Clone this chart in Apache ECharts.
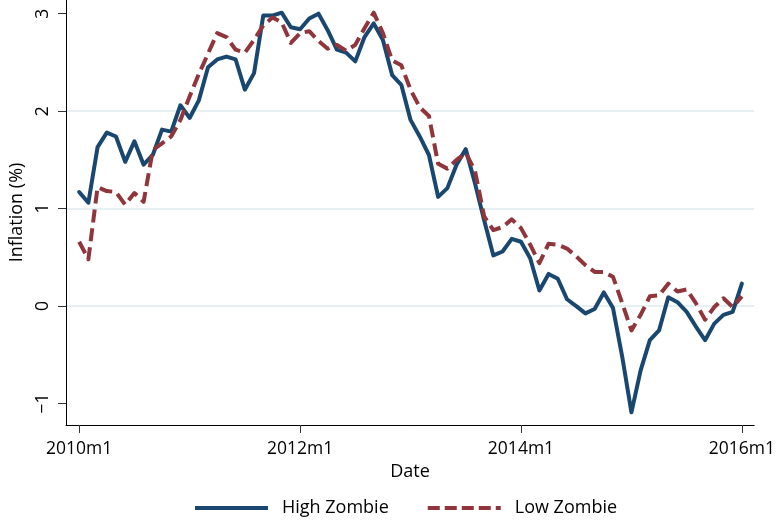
<!DOCTYPE html>
<html>
<head>
<meta charset="utf-8">
<script src="https://cdn.jsdelivr.net/npm/echarts@6/dist/echarts.min.js"></script>
<style>
html,body{margin:0;padding:0;background:#fff;}
#chart{width:778px;height:525px;}
</style>
</head>
<body>
<div id="chart"></div>
<script>
// Months since 2010m1 (0 = 2010m1 ... 72 = 2016m1)
const highZombie = [1.17,1.06,1.63,1.78,1.74,1.48,1.69,1.45,1.55,1.81,1.79,2.06,1.93,
  2.11,2.45,2.53,2.56,2.53,2.22,2.39,2.98,2.98,3.01,2.86,2.84,2.95,
  3.00,2.83,2.63,2.60,2.51,2.76,2.90,2.73,2.37,2.27,1.91,1.74,1.55,
  1.12,1.21,1.45,1.61,1.26,0.88,0.52,0.56,0.69,0.66,0.49,0.16,0.33,
  0.28,0.07,0.00,-0.075,-0.03,0.14,-0.02,-0.52,-1.09,-0.66,-0.35,-0.25,0.09,
  0.04,-0.06,-0.21,-0.35,-0.18,-0.09,-0.06,0.23];
const lowZombie = [0.66,0.48,1.22,1.18,1.17,1.04,1.16,1.07,1.60,1.67,1.74,1.91,2.15,
  2.38,2.59,2.80,2.76,2.63,2.60,2.73,2.88,2.96,2.91,2.70,2.80,2.82,
  2.72,2.64,2.68,2.62,2.68,2.85,3.01,2.80,2.52,2.47,2.22,2.04,1.95,
  1.46,1.41,1.50,1.57,1.39,0.92,0.78,0.81,0.89,0.80,0.63,0.44,0.64,
  0.63,0.59,0.51,0.42,0.35,0.35,0.30,0.03,-0.25,-0.09,0.10,0.11,0.23,
  0.15,0.17,0.03,-0.14,-0.01,0.08,-0.01,0.10];
const xTickValues = [0, 24, 48, 72];
const xTickLabels = ['2010m1', '2012m1', '2014m1', '2016m1'];
const yTickValues = [-1, 0, 1, 2, 3];
const yTickLabels = ['\u22121', '0', '1', '2', '3'];
const seriesNames = ['High Zombie', 'Low Zombie'];

const FONT = '"Open Sans", sans-serif';
const toPairs = arr => arr.map((v, i) => [i, v]);
const BLUE = '#1a476f', RED = '#90353b';

const chart = echarts.init(document.getElementById('chart'), null, {renderer: 'canvas'});
chart.setOption({
  animation: false,
  backgroundColor: '#ffffff',
  grid: {left: 66, right: 19, top: 0, bottom: 100, containLabel: false},
  xAxis: {
    type: 'value',
    min: -1.43, max: 73.33,
    name: 'Date',
    nameLocation: 'middle',
    nameGap: 35,
    nameTextStyle: {fontFamily: FONT, fontSize: 18, color: '#000'},
    axisLine: {show: true, onZero: false, lineStyle: {color: '#000', width: 1}},
    axisTick: {show: true, length: 8, customValues: xTickValues, lineStyle: {color: '#333', width: 1}},
    axisLabel: {
      show: true, customValues: xTickValues, margin: 15,
      fontFamily: FONT, fontSize: 17.5, color: '#000',
      formatter: v => xTickLabels[xTickValues.indexOf(v)]
    },
    splitLine: {show: false}
  },
  yAxis: {
    type: 'value',
    min: -1.22, max: 3.14,
    name: 'Inflation (%)',
    nameLocation: 'middle',
    nameRotate: 90,
    nameGap: 33.5,
    nameTextStyle: {fontFamily: FONT, fontSize: 18, color: '#000'},
    axisLine: {show: true, onZero: false, lineStyle: {color: '#000', width: 1}},
    axisTick: {show: true, length: 8, customValues: yTickValues, lineStyle: {color: '#333', width: 1}},
    axisLabel: {
      show: true, customValues: yTickValues, rotate: 90, margin: 14,
      fontFamily: FONT, fontSize: 17.5, color: '#000',
      formatter: v => yTickLabels[yTickValues.indexOf(v)]
    },
    splitLine: {show: true, showMinLine: false, showMaxLine: false, lineStyle: {color: '#e6eff1', width: 2}}
  },
  legend: {
    left: 195, top: 499, padding: 0,
    itemWidth: 73, itemHeight: 4, itemGap: 39,
    textStyle: {fontFamily: FONT, fontSize: 18, color: '#000', padding: [0, 0, 0, 9]},
    data: [
      {name: seriesNames[0], icon: 'rect', itemStyle: {color: BLUE}},
      {name: seriesNames[1], icon: 'path://M0,0h12v4h-12zM17,0h12v4h-12zM34,0h12v4h-12zM51,0h12v4h-12zM68,0h5v4h-5z', itemStyle: {color: RED}}
    ]
  },
  series: [
    {
      name: seriesNames[0], type: 'line', data: toPairs(highZombie),
      showSymbol: false, symbol: 'none',
      lineStyle: {color: BLUE, width: 4, join: 'round', cap: 'round'},
      itemStyle: {color: BLUE},
      z: 2
    },
    {
      name: seriesNames[1], type: 'line', data: toPairs(lowZombie),
      showSymbol: false, symbol: 'none',
      lineStyle: {color: RED, width: 4, type: [13, 6], join: 'round', cap: 'butt'},
      itemStyle: {color: RED},
      z: 3
    }
  ]
});
</script>
</body>
</html>
